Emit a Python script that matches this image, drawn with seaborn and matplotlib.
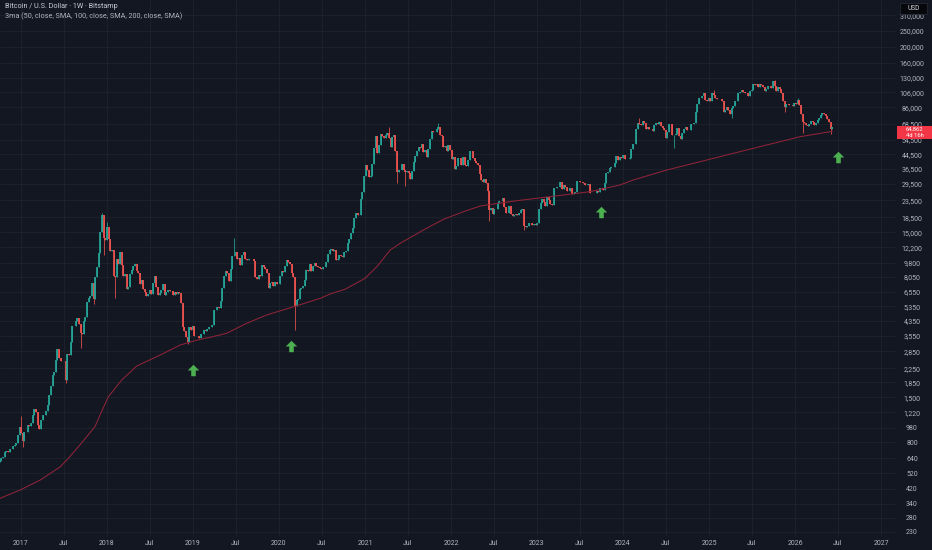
import matplotlib
matplotlib.use("Agg")
import matplotlib.pyplot as plt
import matplotlib.dates as mdates
from matplotlib.path import Path
from matplotlib.patches import Rectangle
from matplotlib.ticker import NullLocator
import numpy as np
import pandas as pd
import seaborn as sns

# weekly closes (BTC/USD, Bitstamp), week starts Monday 2016-10-03
first_open = 610
closes_2016 = [617, 640, 655, 700, 710, 703, 730, 730, 765, 770, 790, 890, 995]
closes_2017 = [910, 820, 920, 920, 1020, 1000, 1050, 1170, 1270, 1230, 1020, 965, 1090,
               1180, 1180, 1240, 1350, 1560, 1750, 2050, 2150, 2520, 2950, 2600, 2500, 2500,
               2500, 1920, 2750, 2730, 3230, 4050, 4050, 4350, 4570, 4200, 3700, 3650, 4380,
               4600, 5680, 6000, 6150, 7380, 5900, 8050, 9300, 11300, 15100, 19000, 13800, 13400]
closes_2018 = [16200, 13600, 11600, 11800, 8200, 8100, 10400, 9600, 11400, 9500, 8200, 8400,
               6800, 7000, 8350, 8900, 9350, 9650, 8700, 8500, 7350, 7700, 6800, 6500, 6150,
               6350, 6750, 6350, 7400, 8200, 7000, 6300, 6400, 6700, 7300, 6250, 6500, 6700,
               6600, 6600, 6300, 6500, 6350, 6500, 6400, 5600, 4000, 3800, 3500, 3250, 4000, 3850]
closes_2019 = [4050, 3550, 3550, 3550, 3450, 3650, 3650, 3850, 3800, 3900, 4000, 3980, 4100,
               5050, 5050, 5300, 5200, 5750, 6950, 8150, 8700, 8550, 7650, 8950, 10800, 10800,
               11450, 10300, 10550, 9500, 11000, 11350, 10300, 10150, 10350, 10400, 10300, 10000,
               8050, 7850, 8300, 8200, 9550, 9200, 9050, 8500, 6900, 7400, 7500, 7100, 7500, 7300]
closes_2020 = [7350, 8150, 8700, 8600, 9350, 10150, 9900, 9650, 8550, 8050, 5350, 5850, 5900,
               6800, 6900, 7100, 7700, 8900, 8700, 9650, 8700, 9450, 9750, 9350, 9300, 9100,
               9050, 9250, 9200, 9950, 11050, 11700, 11850, 11650, 11700, 10250, 10350, 10900,
               10750, 10650, 11400, 11500, 13000, 13750, 14850, 15950, 18400, 19700, 19150,
               19250, 23800, 26300]
closes_2021 = [33000, 38200, 36000, 32300, 33100, 39200, 48600, 57400, 45200, 50900, 59300,
               57500, 55800, 58700, 59800, 56200, 49100, 56600, 58200, 46400, 34700, 35600,
               35800, 39000, 35600, 34700, 35300, 34250, 31800, 35400, 39850, 43800, 47000,
               49300, 48800, 51800, 46000, 47300, 42700, 48200, 54950, 61500, 60900, 61300,
               63300, 65500, 58700, 57200, 49400, 50100, 46700, 50800]
closes_2022 = [47300, 41800, 43100, 36300, 37900, 42400, 42200, 38400, 43200, 38400, 37800,
               41300, 46850, 46400, 42150, 40400, 39500, 38500, 34100, 31300, 30300, 31800,
               29900, 26600, 20550, 21000, 19300, 20850, 20800, 22600, 23300, 23200, 24300,
               21500, 19550, 19800, 21800, 19400, 18800, 19050, 19450, 19250, 19550, 20650,
               20900, 16350, 16250, 16450, 17100, 17100, 16750, 16850]
closes_2023 = [16600, 17100, 20900, 22700, 23750, 22950, 21800, 24650, 23550, 22400, 22100,
               28000, 27950, 28150, 28350, 30300, 27600, 29250, 28450, 26900, 26750, 28050,
               25800, 25900, 26350, 30550, 30600, 30200, 30250, 29800, 29250, 29050, 29300,
               26100, 26000, 25850, 25850, 26550, 26250, 27950, 27900, 27150, 29950, 34550,
               35050, 37050, 37400, 37450, 39500, 43750, 41400, 43000, 42250]
closes_2024 = [43950, 41750, 41550, 42050, 42600, 48300, 51650, 51700, 63100, 68950, 68350,
               67200, 71300, 69400, 63450, 64950, 63100, 63900, 61450, 66950, 69300, 67750,
               69650, 66650, 64250, 62650, 55850, 60800, 68150, 68250, 58150, 58700, 58950,
               64200, 57300, 54850, 59950, 63550, 65650, 62850, 62900, 68350, 67950, 68750,
               80350, 90550, 97650, 97250, 101200, 104300, 95200, 93700]
closes_2025 = [98350, 94500, 104550, 102600, 97700, 96500, 96150, 96250, 94200, 80650, 82600,
               86050, 82300, 78350, 84550, 87500, 93750, 94300, 104650, 106450, 109050, 105700,
               105600, 105500, 100950, 108350, 108950, 119050, 117250, 119450, 114200, 119300,
               117450, 113500, 108250, 111150, 115350, 115300, 112200, 123500, 115100, 108650,
               114500, 110550, 104700, 94200, 86800, 90400, 90400, 88200, 88600, 87800]
closes_2026 = [91000, 90600, 95000, 89000, 78500, 70500, 68800, 67500, 66000, 68500, 71000,
               70500, 67000, 69500, 71500, 74500, 77500, 79500, 78000, 76000, 73500, 70000,
               63500, 64862]

# notable wicks (week start, value)
high_weeks = ["2017-01-02", "2017-12-11", "2018-01-01", "2019-06-24", "2021-04-12",
              "2021-11-08", "2024-03-11", "2025-01-20", "2025-10-06", "2026-01-12"]
high_vals = [1150, 19666, 17250, 13880, 64900, 69000, 73800, 109500, 126000, 97900]
low_weeks = ["2017-01-09", "2017-07-10", "2017-09-11", "2017-11-06", "2017-12-18",
             "2018-02-05", "2018-12-10", "2020-03-09", "2021-05-17", "2021-06-21",
             "2022-06-13", "2022-11-07", "2024-08-05", "2025-04-07", "2025-11-17",
             "2026-02-02", "2026-06-01"]
low_vals = [750, 1830, 2980, 5500, 10900, 6000, 3150, 3850, 30000, 28800, 17600, 15500,
            49000, 74500, 80600, 60100, 59500]

# 200-week SMA
sma_dates = ["2016-10-04", "2016-12-28", "2017-03-24", "2017-06-17", "2017-07-21",
             "2017-09-08", "2017-11-11", "2017-12-09", "2018-01-07", "2018-03-05",
             "2018-05-08", "2018-08-15", "2018-11-08", "2019-01-31", "2019-03-15",
             "2019-05-24", "2019-08-17", "2019-11-10", "2020-03-04", "2020-06-25",
             "2020-08-05", "2020-10-08", "2021-01-01", "2021-02-20", "2021-04-18",
             "2021-05-30", "2021-09-06", "2021-11-30", "2022-02-23", "2022-05-05",
             "2022-06-02", "2022-10-07", "2023-02-25", "2023-08-14", "2023-12-19",
             "2024-02-13", "2024-07-05", "2024-11-23", "2025-04-14", "2025-09-02",
             "2026-01-22", "2026-05-30", "2026-06-08"]
sma_vals = [367, 412, 474, 570, 641, 772, 997, 1229, 1515, 1914, 2327, 2710, 3117, 3374,
            3470, 3671, 4219, 4737, 5319, 5979, 6350, 6782, 7905, 9294, 11735, 12882, 15515,
            18010, 20030, 21680, 21990, 23350, 24690, 26480, 29060, 31160, 35830, 40230,
            45250, 50790, 57030, 61170, 61700]

# buy-signal arrows
arrow_dates = ["2019-01-01", "2020-02-22", "2023-09-30", "2026-07-03"]
arrow_vals = [2200, 3075, 19940, 42960]

price_ticks = [230, 280, 340, 420, 520, 640, 800, 980, 1220, 1500, 1850, 2250, 2850, 3550,
               4350, 5350, 6550, 8050, 9800, 12200, 15000, 18500, 23500, 29500, 36500,
               44500, 54500, 68500, 86000, 106000, 130000, 160000, 200000, 250000, 310000]

BG = "#131722"
UP = "#26a69a"
DOWN = "#ef5350"
TXT = "#b2b5be"
GRID = "#1c202b"

sns.set_theme(style="dark", rc={"axes.facecolor": BG, "figure.facecolor": BG})
plt.rcParams["font.family"] = ["Roboto", "DejaVu Sans"]

closes = (closes_2016 + closes_2017 + closes_2018 + closes_2019 + closes_2020 + closes_2021
          + closes_2022 + closes_2023 + closes_2024 + closes_2025 + closes_2026)
weeks = pd.date_range("2016-10-03", periods=len(closes), freq="7D")
df = pd.DataFrame({"close": closes}, index=weeks)
df["open"] = [first_open] + closes[:-1]
df["high"] = df[["open", "close"]].max(axis=1)
df["low"] = df[["open", "close"]].min(axis=1)
for d, v in zip(high_weeks, high_vals):
    i = df.index.get_indexer([pd.Timestamp(d)], method="nearest")[0]
    df.iloc[i, df.columns.get_loc("high")] = max(v, df["high"].iloc[i])
for d, v in zip(low_weeks, low_vals):
    i = df.index.get_indexer([pd.Timestamp(d)], method="nearest")[0]
    df.iloc[i, df.columns.get_loc("low")] = min(v, df["low"].iloc[i])

x = mdates.date2num(df.index.to_pydatetime())
up = df["close"] >= df["open"]
cols = np.where(up, UP, DOWN)

fig = plt.figure(figsize=(9.32, 5.5), dpi=100)
ax = fig.add_axes([0, 14 / 550, 895 / 932, 536 / 550])
ax.set_facecolor(BG)
ax.set_yscale("log")
ax.set_ylim(216.9, 384200)
ax.set_xlim(mdates.date2num(pd.Timestamp("2016-10-04")), mdates.date2num(pd.Timestamp("2027-03-01")))

# grid
xt = []
xl = []
for yr in range(2017, 2028):
    xt.append(mdates.date2num(pd.Timestamp(f"{yr}-01-01")))
    xl.append(str(yr))
    if yr < 2027:
        xt.append(mdates.date2num(pd.Timestamp(f"{yr}-07-01")))
        xl.append("Jul")
for t in xt:
    ax.axvline(t, color=GRID, lw=0.8, zorder=0)
for p in price_ticks:
    ax.axhline(p, color=GRID, lw=0.8, zorder=0)

# candles
ax.vlines(x, df["low"], df["high"], colors=cols, lw=0.55, zorder=2)
ax.vlines(x, df[["open", "close"]].min(axis=1), df[["open", "close"]].max(axis=1),
          colors=cols, lw=1.25, zorder=3)

# 200w SMA
sma_x = mdates.date2num(pd.to_datetime(sma_dates).to_pydatetime())
sns.lineplot(x=sma_x, y=sma_vals, ax=ax, color="#8f2438", lw=0.75, zorder=4)

# arrows
arrow_path = Path([(-0.5, 0.0), (0.0, 0.5), (0.5, 0.0), (0.2, 0.0), (0.2, -0.5),
                   (-0.2, -0.5), (-0.2, 0.0), (-0.5, 0.0)],
                  [Path.MOVETO] + [Path.LINETO] * 6 + [Path.CLOSEPOLY])
ax_x = mdates.date2num(pd.to_datetime(arrow_dates).to_pydatetime())
ax.scatter(ax_x, arrow_vals, marker=arrow_path, s=68, color="#4caf50", linewidths=0, zorder=5)

# axes styling
for s in ax.spines.values():
    s.set_visible(False)
ax.grid(False)
ax.set_xticks(xt)
ax.set_xticklabels(xl)
ax.tick_params(axis="x", length=0, pad=3, labelsize=5, labelcolor=TXT)
ax.yaxis.tick_right()
ax.set_yticks(price_ticks)
ax.set_yticklabels([f"{p:,}" for p in price_ticks])
ax.yaxis.set_minor_locator(NullLocator())
ax.tick_params(axis="y", length=0, pad=12.2, labelsize=5, labelcolor=TXT)
for lab in ax.get_yticklabels():
    lab.set_ha("center")

# header
fig.text(5 / 932, 1 - 7 / 550, "Bitcoin / U.S. Dollar · 1W · Bitstamp", fontsize=5.2,
         color="#c8cbd3", va="center", ha="left")
fig.text(5 / 932, 1 - 16 / 550, "3ma (50, close, SMA, 100, close, SMA, 200, close, SMA)",
         fontsize=5.2, color=TXT, va="center", ha="left")

# USD box
fig.patches.append(Rectangle((900 / 932, 1 - 14 / 550), 27 / 932, 11 / 550,
                             transform=fig.transFigure, facecolor="#06080c",
                             edgecolor="#2a2e39", lw=0.5, zorder=10))
fig.text(913.5 / 932, 1 - 8.5 / 550, "USD", fontsize=4.8, color="#d1d4dc",
         ha="center", va="center", zorder=11)

# last price box
last = closes[-1]
py = ax.transData.transform((ax.get_xlim()[0], last))[1]
ypx = 550 - py
fig.patches.append(Rectangle((897 / 932, 1 - (ypx + 11.5) / 550), 35 / 932, 13 / 550,
                             transform=fig.transFigure, facecolor="#f23645",
                             edgecolor="none", zorder=10))
fig.text(914.5 / 932, 1 - (ypx + 1.8) / 550, f"{last:,}", fontsize=4.2, color="white",
         ha="center", va="center", zorder=11)
fig.text(914.5 / 932, 1 - (ypx + 7.8) / 550, "4d 16h", fontsize=4.2, color="white",
         ha="center", va="center", zorder=11)

fig.savefig("out.png", dpi=100, facecolor=BG)
